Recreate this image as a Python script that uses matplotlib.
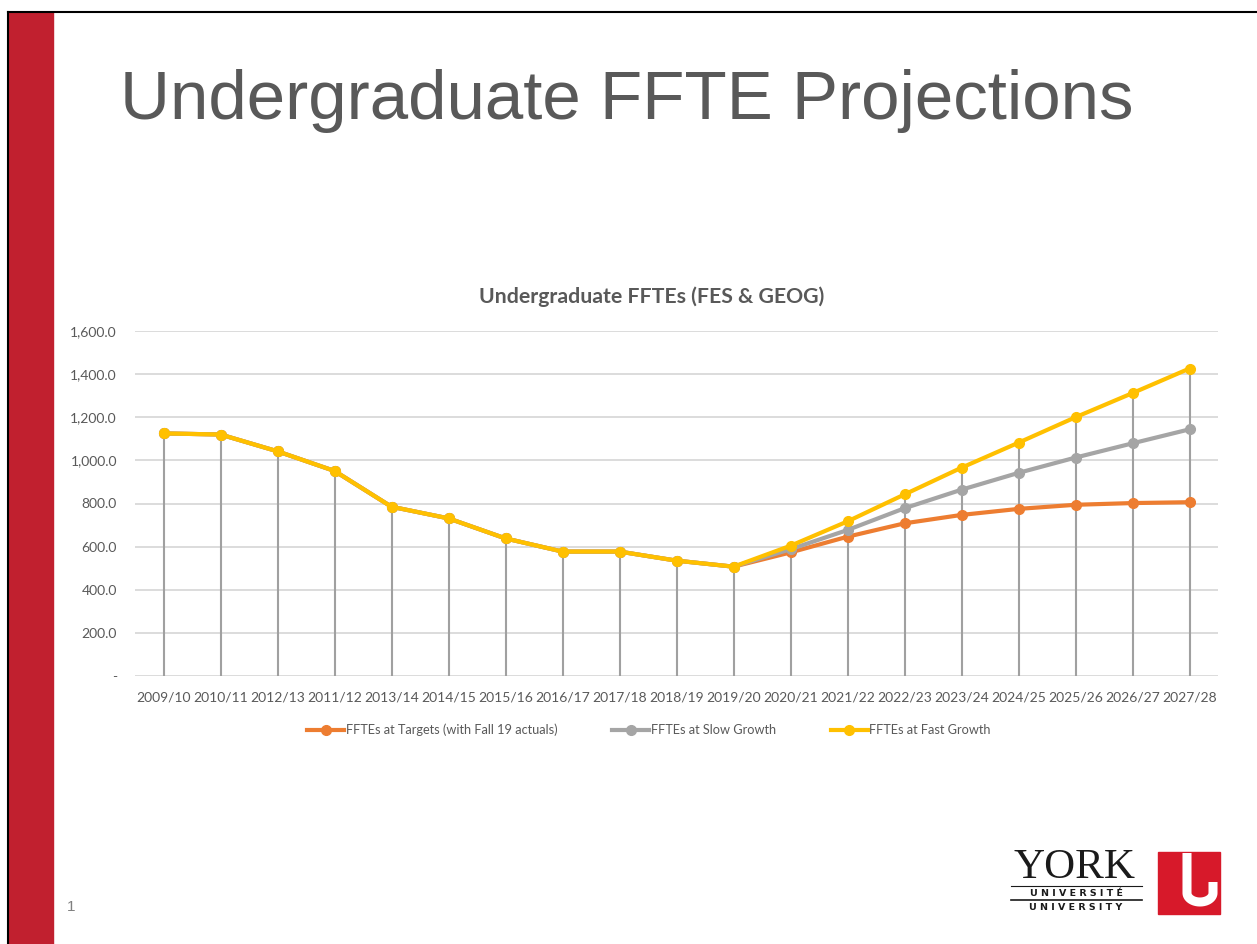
import numpy as np
import matplotlib.pyplot as plt
from matplotlib.patches import Rectangle
from matplotlib.lines import Line2D

W, H = 1257, 944

years = ['2009/10', '2010/11', '2012/13', '2011/12', '2013/14', '2014/15', '2015/16',
         '2016/17', '2017/18', '2018/19', '2019/20', '2020/21', '2021/22', '2022/23',
         '2023/24', '2024/25', '2025/26', '2026/27', '2027/28']

# historical values shared by all three series (through 2019/20)
actuals = [1125, 1120, 1042, 951, 785, 731, 638, 577, 577, 535, 507]
targets = actuals + [573, 646, 708, 747, 775, 794, 802, 806]
slow = actuals + [588, 677, 778, 864, 942, 1013, 1079, 1144]
fast = actuals + [604, 717, 842, 966, 1082, 1200, 1312, 1426]

series_names = ['FFTEs at Targets (with Fall 19 actuals)', 'FFTEs at Slow Growth',
                'FFTEs at Fast Growth']
colors = ['#ED7D31', '#A5A5A5', '#FFC000']
yticks = [0, 200, 400, 600, 800, 1000, 1200, 1400, 1600]

txt = '#595959'
cfont = 'Lato'


def fx(x):
    return x / W


def fy(y):
    return 1 - y / H


fig = plt.figure(figsize=(W / 100, H / 100), dpi=100)

# slide decoration
fig.patches.append(Rectangle((fx(9), 0), fx(53) - fx(9), fy(12), transform=fig.transFigure,
                             color='#C1202F', zorder=0))
fig.add_artist(Line2D([fx(8), fx(8)], [0, fy(12)], color='black', lw=1.5))
fig.add_artist(Line2D([fx(8), 1], [fy(12), fy(12)], color='black', lw=1.5))

fig.text(fx(120), fy(101), 'Undergraduate FFTE Projections', fontsize=49.8,
         family='Liberation Sans', color=txt, va='center', ha='left')
fig.text(fx(71), fy(907), '1', fontsize=11, family='Liberation Sans', color='#7f7f7f',
         va='center', ha='center')

# chart
ax = fig.add_axes([fx(135), fy(676), fx(1218) - fx(135), fy(331) - fy(676)])
x = np.arange(len(years))
tops = np.maximum(np.maximum(targets, slow), fast)
ax.vlines(x, 0, tops, color='#A0A0A0', lw=1.5, zorder=2)
for vals, c, name in zip([targets, slow, fast], colors, series_names):
    ax.plot(x, vals, color=c, lw=3.0, marker='o', ms=7, label=name, zorder=3)

ax.set_xlim(-0.5, len(years) - 0.5)
ax.set_ylim(0, 1600)
ax.set_yticks(yticks)
ax.set_yticklabels(['-' if v == 0 else f'{v:,.1f}' for v in yticks])
ax.set_xticks(x)
ax.set_xticklabels(years)
ax.grid(axis='y', color='#D9D9D9', lw=1.3, zorder=0)
ax.set_axisbelow(True)
for s in ax.spines.values():
    s.set_visible(False)
ax.tick_params(length=0, labelsize=10, labelcolor=txt)
ax.tick_params(axis='y', pad=13)
ax.tick_params(axis='x', pad=11)
for lab in ax.get_xticklabels() + ax.get_yticklabels():
    lab.set_family(cfont)

fig.text(fx(652), fy(297), 'Undergraduate FFTEs (FES & GEOG)', fontsize=15.3,
         family=cfont, weight='bold', color=txt, ha='center', va='center')

handles, labels = ax.get_legend_handles_labels()
leg = fig.legend(handles, labels, loc='center', bbox_to_anchor=(fx(649), fy(730)),
                 ncol=3, frameon=False, handlelength=2.9, handletextpad=0.1,
                 columnspacing=4.3, prop={'family': cfont, 'size': 9.2})
for t in leg.get_texts():
    t.set_color(txt)

# York logo
fig.text(fx(1075), fy(868), 'YORK', fontsize=31, family='Liberation Serif', color='#1a1a1a',
         ha='center', va='center')
fig.text(fx(1076), fy(893), 'U N I V E R S I T É', fontsize=6.8, family='DejaVu Sans',
         weight='bold', color='#1a1a1a', ha='center', va='center')
fig.text(fx(1076), fy(907), 'U N I V E R S I T Y', fontsize=6.8, family='DejaVu Sans',
         weight='bold', color='#1a1a1a', ha='center', va='center')
fig.add_artist(Line2D([fx(1011), fx(1142)], [fy(900), fy(900)], color='#1a1a1a', lw=1.2))
fig.add_artist(Line2D([fx(1011), fx(1142)], [fy(886), fy(886)], color='#1a1a1a', lw=0.8))
fig.patches.append(Rectangle((fx(1158), fy(914)), fx(1220) - fx(1158), fy(852) - fy(914),
                             transform=fig.transFigure, color='#D7192A'))
th = np.linspace(np.pi, 2 * np.pi, 30)
ux = np.concatenate([[1187, 1187], 1200 + 13 * np.cos(th), [1213, 1213]])
uy = np.concatenate([[853, 893], 893 - 9 * np.sin(th), [893, 882]])
fig.add_artist(Line2D(fx(ux), fy(uy), color='white', lw=6.5, solid_capstyle='butt'))

fig.savefig('out.png', dpi=100)
